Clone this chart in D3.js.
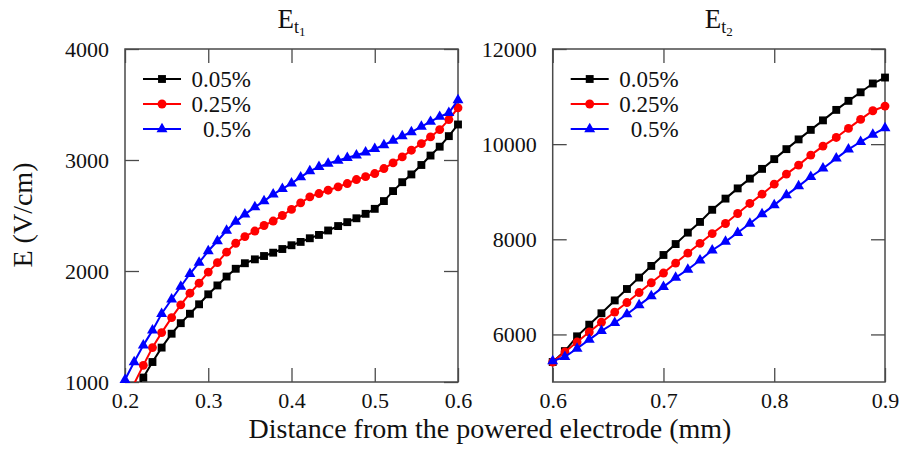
<!DOCTYPE html>
<html>
<head>
<meta charset="utf-8">
<script src="https://cdn.jsdelivr.net/npm/d3@7"></script>
<style>
  body { margin: 0; background: #fff; }
  svg text { font-family: "Liberation Serif", "DejaVu Serif", "Times New Roman", Times, serif; fill: #111; }
</style>
</head>
<body>
<svg id="chart"></svg>
<script>
// series labels (legend)
const seriesNames = ['0.05%', '0.25%', '0.5%'];

// left panel: E_t1, 0.2 - 0.6 mm
const xLeft = [0.200, 0.211, 0.222, 0.233, 0.244, 0.256, 0.267, 0.278, 0.289, 0.300,
  0.311, 0.322, 0.333, 0.344, 0.356, 0.367, 0.378, 0.389, 0.400, 0.411,
  0.422, 0.433, 0.444, 0.456, 0.467, 0.478, 0.489, 0.500, 0.511, 0.522,
  0.533, 0.544, 0.556, 0.567, 0.578, 0.589, 0.600];
const et1Low = [760, 900, 1040, 1180, 1310, 1435, 1530, 1615, 1700, 1790,
  1870, 1950, 2020, 2070, 2105, 2135, 2165, 2198, 2232, 2262,
  2295, 2325, 2365, 2405, 2440, 2475, 2515, 2560, 2630, 2720,
  2800, 2870, 2955, 3040, 3120, 3215, 3320];
const et1Mid = [840, 985, 1150, 1310, 1445, 1580, 1695, 1800, 1890, 1990,
  2075, 2170, 2250, 2310, 2360, 2410, 2450, 2500, 2555, 2614,
  2668, 2698, 2728, 2758, 2788, 2824, 2850, 2878, 2923, 2974,
  3028, 3088, 3148, 3208, 3274, 3364, 3470];
const et1High = [1020, 1180, 1330, 1465, 1615, 1745, 1860, 1975, 2075, 2180,
  2270, 2365, 2445, 2510, 2575, 2630, 2690, 2740, 2790, 2845,
  2900, 2938, 2968, 2995, 3020, 3043, 3070, 3100, 3135, 3175,
  3215, 3252, 3300, 3345, 3390, 3425, 3540];

// right panel: E_t2, 0.6 - 0.9 mm
const xRight = [0.600, 0.611, 0.622, 0.633, 0.644, 0.656, 0.667, 0.678, 0.689, 0.700,
  0.711, 0.722, 0.733, 0.744, 0.756, 0.767, 0.778, 0.789, 0.800, 0.811,
  0.822, 0.833, 0.844, 0.856, 0.867, 0.878, 0.889, 0.900];
const et2Low = [5420, 5650, 5960, 6205, 6445, 6715, 6955, 7195, 7440, 7670,
  7900, 8140, 8365, 8620, 8855, 9070, 9275, 9480, 9685, 9895,
  10100, 10300, 10500, 10720, 10910, 11090, 11275, 11400];
const et2Mid = [5420, 5630, 5840, 6050, 6255, 6470, 6670, 6880, 7085, 7290,
  7500, 7710, 7915, 8120, 8332, 8542, 8753, 8949, 9159, 9370,
  9559, 9770, 9959, 10141, 10331, 10520, 10702, 10800];
const et2High = [5440, 5530, 5705, 5890, 6075, 6245, 6425, 6615, 6805, 7000,
  7195, 7365, 7560, 7770, 7950, 8136, 8332, 8530, 8718, 8928,
  9117, 9314, 9489, 9700, 9889, 10050, 10200, 10340];

// tick values
const leftXTicks = [0.2, 0.3, 0.4, 0.5, 0.6];
const leftYTicks = [1000, 2000, 3000, 4000];
const rightXTicks = [0.6, 0.7, 0.8, 0.9];
const rightYTicks = [6000, 8000, 10000, 12000];

const WIDTH = 904;
const HEIGHT = 450;
const FONT = '"Liberation Serif", "DejaVu Serif", "Times New Roman", Times, serif';
const COLORS = ['#000000', '#ff0000', '#0000ff'];
const SYMBOLS = [d3.symbolSquare, d3.symbolCircle, d3.symbolTriangle];
const SYMBOL_SIZE = [62, 62, 52];
const FRAME = '#4a4a4a';

const svg = d3.select('#chart')
  .attr('width', WIDTH)
  .attr('height', HEIGHT)
  .attr('font-family', FONT);

svg.append('rect').attr('width', WIDTH).attr('height', HEIGHT).attr('fill', '#fff');

const panels = [
  {id: 'p1', left: 125, right: 458, top: 49, bottom: 382,
    xDomain: [0.2, 0.6], yDomain: [1000, 4000],
    xTicks: leftXTicks, yTicks: leftYTicks,
    xs: xLeft, ys: [et1Low, et1Mid, et1High], sub: '1'},
  {id: 'p2', left: 552.7, right: 885, top: 49, bottom: 382,
    xDomain: [0.6, 0.9], yDomain: [5000, 12000],
    xTicks: rightXTicks, yTicks: rightYTicks,
    xs: xRight, ys: [et2Low, et2Mid, et2High], sub: '2'}
];

panels.forEach(p => {
  const x = d3.scaleLinear().domain(p.xDomain).range([p.left, p.right]);
  const y = d3.scaleLinear().domain(p.yDomain).range([p.bottom, p.top]);
  const g = svg.append('g');

  // clip for the curves
  svg.append('clipPath').attr('id', 'clip-' + p.id)
    .append('rect')
    .attr('x', p.left).attr('y', p.top)
    .attr('width', p.right - p.left).attr('height', p.bottom - p.top);

  // axes, ticks pointing inwards
  g.append('g').attr('transform', `translate(0,${p.bottom})`)
    .call(d3.axisBottom(x).tickValues(p.xTicks).tickFormat(d3.format('.1f')).tickSizeInner(-14).tickSizeOuter(0).tickPadding(10));
  g.append('g').attr('transform', `translate(0,${p.top})`)
    .call(d3.axisTop(x).tickValues(p.xTicks).tickFormat('').tickSizeInner(-14).tickSizeOuter(0));
  g.append('g').attr('transform', `translate(${p.left},0)`)
    .call(d3.axisLeft(y).tickValues(p.yTicks).tickFormat(d3.format('d')).tickSizeInner(-14).tickSizeOuter(0).tickPadding(16));
  g.append('g').attr('transform', `translate(${p.right},0)`)
    .call(d3.axisRight(y).tickValues(p.yTicks).tickFormat('').tickSizeInner(-14).tickSizeOuter(0));

  g.selectAll('g').attr('font-family', FONT).attr('font-size', 22);
  g.selectAll('.domain').remove();
  g.selectAll('.tick line').attr('stroke', FRAME).attr('stroke-width', 1.3);
  g.selectAll('.tick text').attr('fill', '#111');

  // frame
  g.append('rect')
    .attr('x', p.left).attr('y', p.top)
    .attr('width', p.right - p.left).attr('height', p.bottom - p.top)
    .attr('fill', 'none').attr('stroke', FRAME).attr('stroke-width', 1.5);

  // curves + markers
  p.ys.forEach((vals, i) => {
    const pts = p.xs.map((xv, j) => ({x: xv, e: vals[j]}));
    const line = d3.line().x(d => x(d.x)).y(d => y(d.e));

    g.append('path')
      .datum(pts)
      .attr('clip-path', `url(#clip-${p.id})`)
      .attr('d', line)
      .attr('fill', 'none')
      .attr('stroke', COLORS[i])
      .attr('stroke-width', 2);

    g.selectAll('.m' + i)
      .data(pts.filter(d => d.e >= p.yDomain[0] && d.e <= p.yDomain[1]))
      .enter()
      .append('path')
      .attr('class', 'm' + i)
      .attr('transform', d => `translate(${x(d.x)},${y(d.e)})`)
      .attr('d', d3.symbol().type(SYMBOLS[i]).size(SYMBOL_SIZE[i]))
      .attr('fill', COLORS[i]);
  });

  // legend
  const lx = p.left + 18;
  seriesNames.forEach((name, i) => {
    const ly = 79 + i * 25;
    const lg = g.append('g');
    lg.append('line')
      .attr('x1', lx).attr('x2', lx + 38)
      .attr('y1', ly).attr('y2', ly)
      .attr('stroke', COLORS[i]).attr('stroke-width', 2);
    lg.append('path')
      .attr('transform', `translate(${lx + 19},${ly})`)
      .attr('d', d3.symbol().type(SYMBOLS[i]).size(SYMBOL_SIZE[i]))
      .attr('fill', COLORS[i]);
    lg.append('text')
      .attr('x', lx + 108).attr('y', ly)
      .attr('dy', '0.34em')
      .attr('text-anchor', 'end')
      .attr('font-size', 23)
      .text(name);
  });

  // panel title E_t1 / E_t2
  const title = svg.append('text')
    .attr('x', (p.left + p.right) / 2)
    .attr('y', 28)
    .attr('text-anchor', 'middle')
    .attr('font-size', 27)
    .text('E');
  title.append('tspan').attr('dy', 5).attr('font-size', 18).text('t');
  title.append('tspan').attr('dy', 3).attr('font-size', 13).text(p.sub);
});

// axis labels
svg.append('text')
  .attr('transform', 'translate(32,215) rotate(-90)')
  .attr('text-anchor', 'middle')
  .attr('font-size', 28)
  .text('E (V/cm)');

svg.append('text')
  .attr('x', 490)
  .attr('y', 438)
  .attr('text-anchor', 'middle')
  .attr('font-size', 28)
  .text('Distance from the powered electrode (mm)');
</script>
</body>
</html>
